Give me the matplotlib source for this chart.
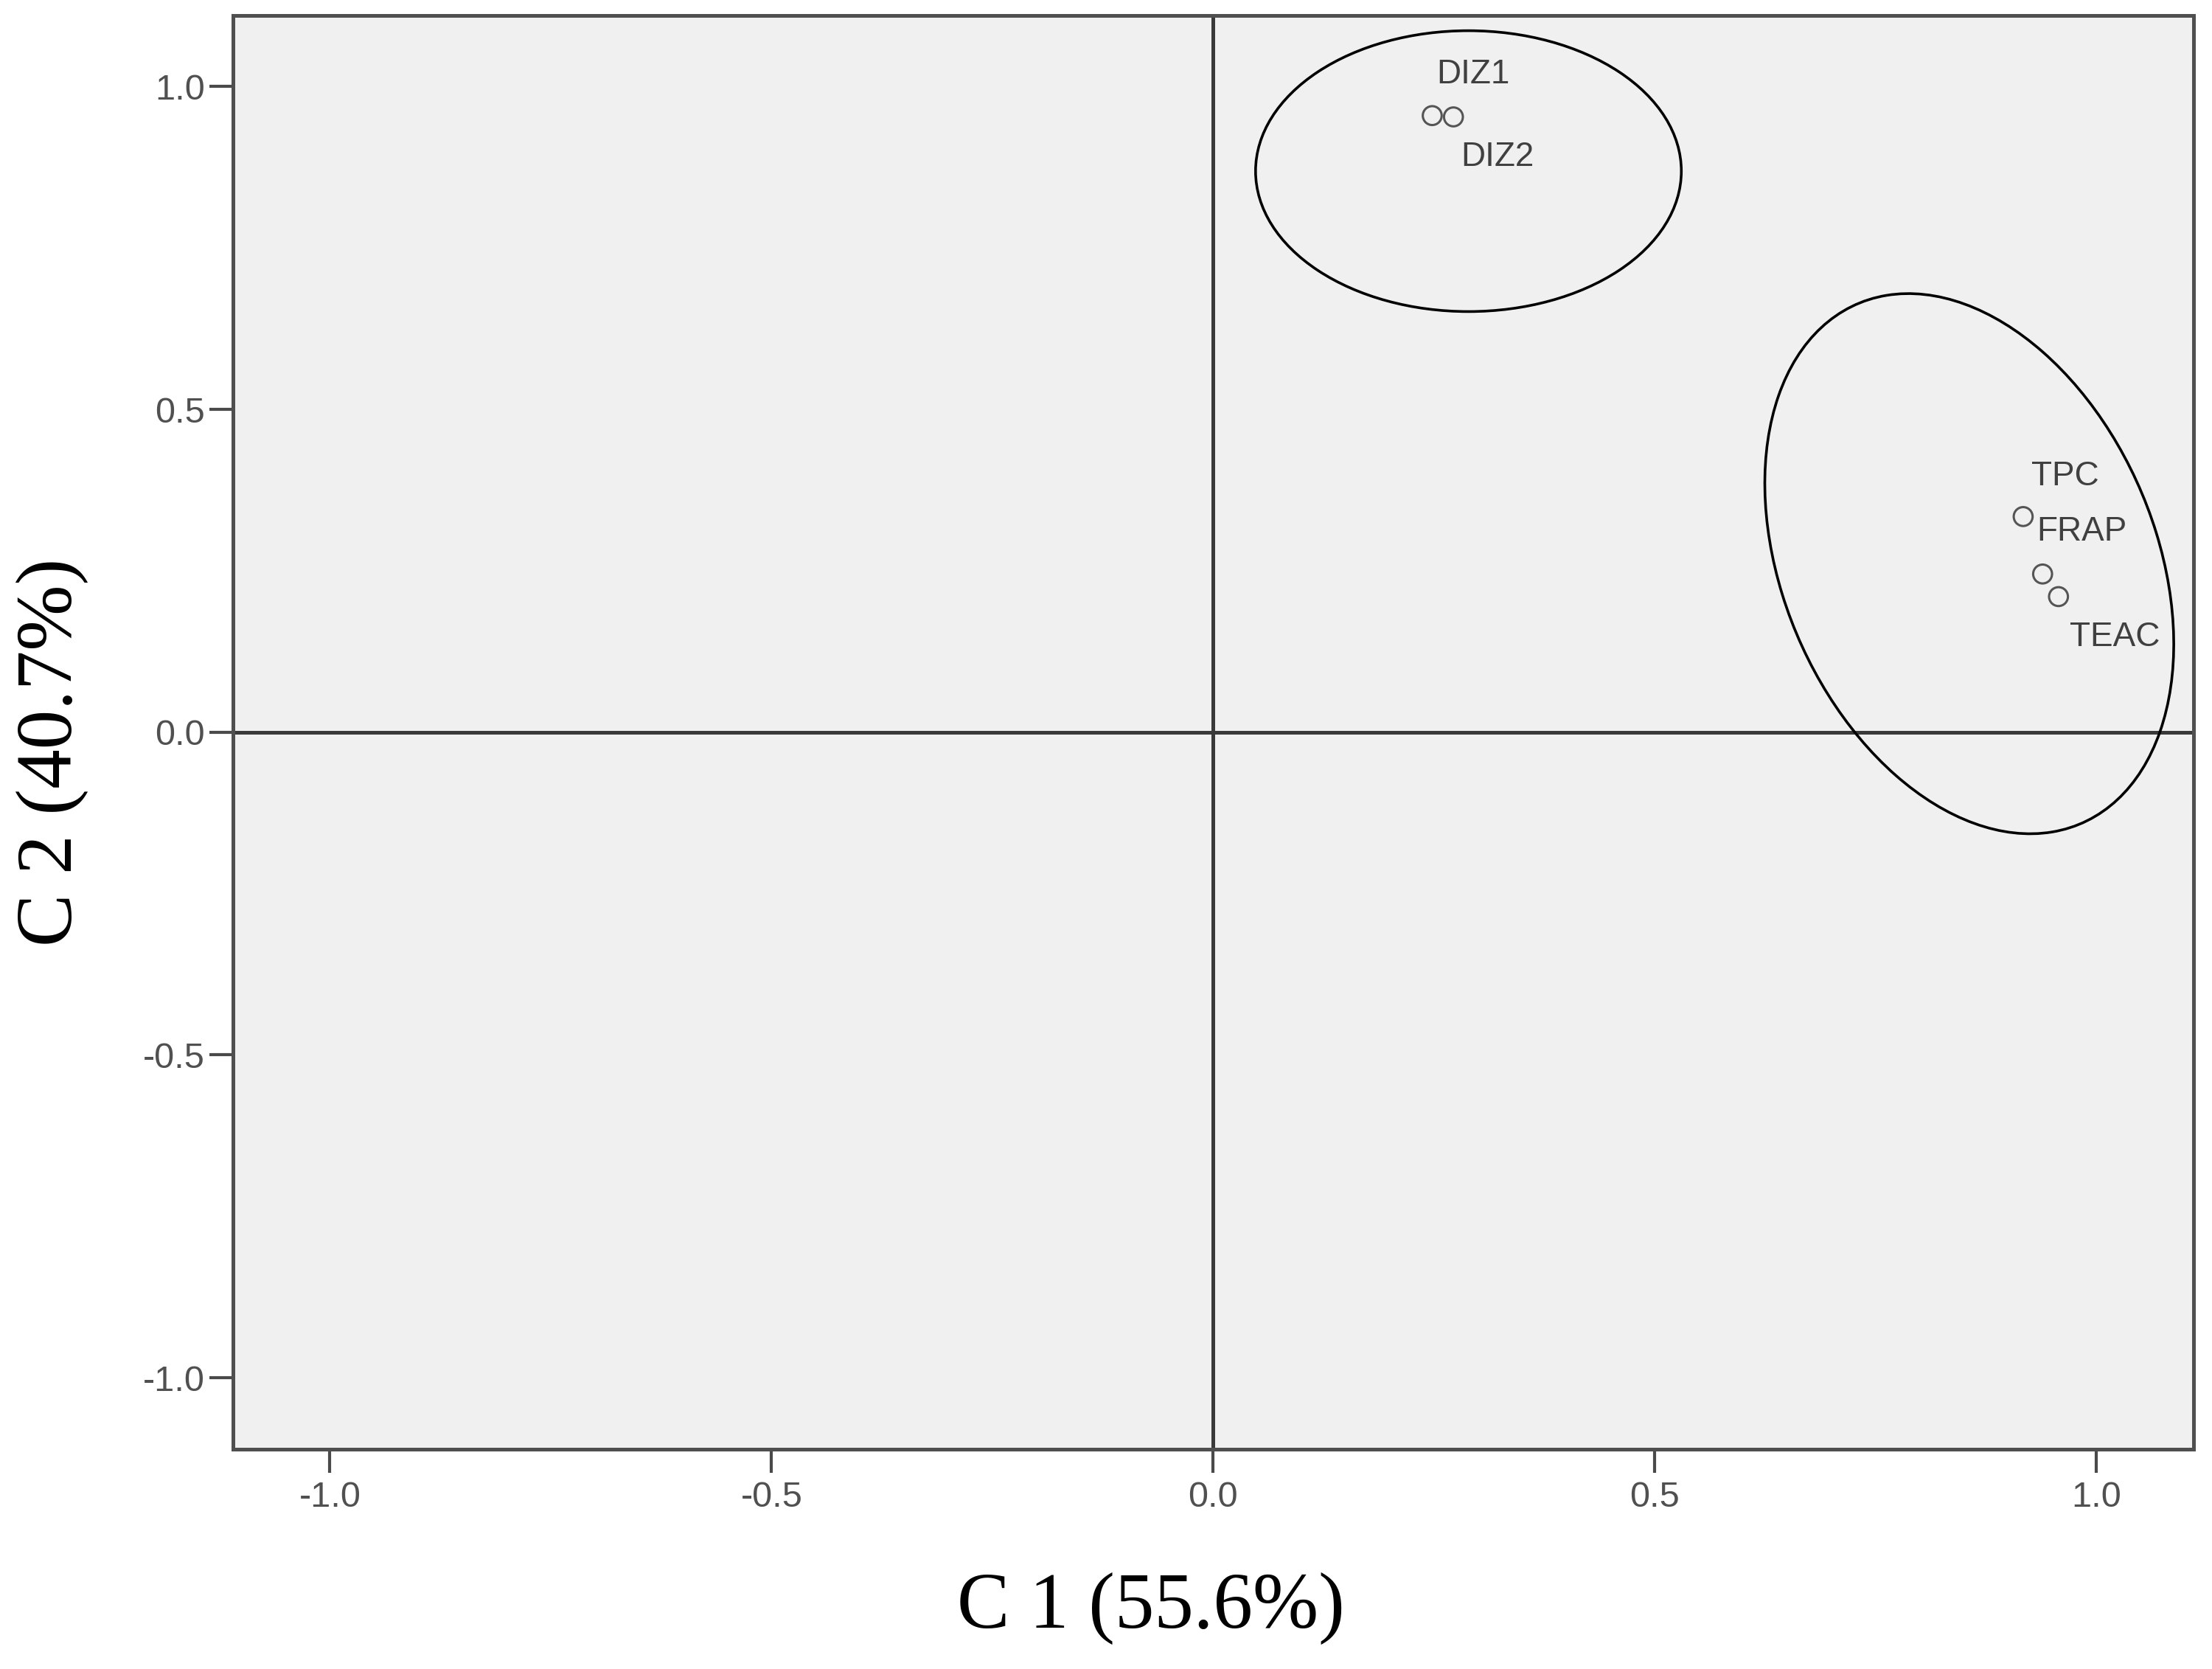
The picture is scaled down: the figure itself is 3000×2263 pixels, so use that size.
import numpy as np
import matplotlib.pyplot as plt
from matplotlib.patches import Ellipse

# component loadings
variables = ['DIZ1', 'DIZ2', 'TPC', 'FRAP', 'TEAC']
c1 = [0.248, 0.272, 0.917, 0.939, 0.957]
c2 = [0.955, 0.953, 0.334, 0.245, 0.210]

# label offsets (points) relative to each marker
label_dx = [2, 3.5, 4, -3, 5.5]
label_dy = [20, -19.5, 19.5, 20.5, -20]

# group ellipses: centre x, centre y, width, height, angle
ell_cx = [0.289, 0.856]
ell_cy = [0.869, 0.261]
ell_w = [0.482, 0.434]
ell_h = [0.435, 0.852]
ell_ang = [0, 12.7]

ticks = [-1.0, -0.5, 0.0, 0.5, 1.0]


def main():
    fig = plt.figure(figsize=(15, 11.315), dpi=200)
    ax = fig.add_axes([0.1052, 0.1319, 0.8865, 0.8588])
    ax.set_facecolor('#f0f0f0')

    ax.axhline(0, color='#3a3a3a', lw=1.8, zorder=1)
    ax.axvline(0, color='#3a3a3a', lw=1.8, zorder=1)

    for cx, cy, w, h, a in zip(ell_cx, ell_cy, ell_w, ell_h, ell_ang):
        ax.add_patch(Ellipse((cx, cy), w, h, angle=a, fill=False,
                             edgecolor='black', lw=1.3, zorder=2))

    ax.scatter(c1, c2, s=85, facecolors='none', edgecolors='#555555',
               linewidths=1.1, zorder=3)
    for name, x, y, dx, dy in zip(variables, c1, c2, label_dx, label_dy):
        ax.annotate(name, (x, y), xytext=(dx, dy), textcoords='offset points',
                    ha='left', va='center', fontsize=16.5, color='#404040',
                    family='Liberation Sans')

    ax.set_xlim(-1.11, 1.11)
    ax.set_ylim(-1.11, 1.11)
    ax.set_xticks(ticks)
    ax.set_yticks(ticks)
    ax.set_xticklabels(['%.1f' % t for t in ticks])
    ax.set_yticklabels(['%.1f' % t for t in ticks])
    ax.tick_params(axis='both', direction='out', length=11.5, width=1.5,
                   color='#4a4a4a', labelsize=17.5, labelcolor='#505050')
    ax.tick_params(axis='x', pad=4)
    ax.tick_params(axis='y', pad=2)
    for lab in ax.get_xticklabels() + ax.get_yticklabels():
        lab.set_family('Liberation Sans')

    for s in ax.spines.values():
        s.set_color('#4f4f4f')
        s.set_linewidth(1.8)

    fig.text(0.5204, 0.0363, 'C 1 (55.6%)', fontsize=38.5,
             family='Liberation Serif', ha='center', va='center')
    fig.text(0.0236, 0.5494, 'C 2 (40.7%)', fontsize=38.5,
             family='Liberation Serif', ha='center', va='center',
             rotation=90)

    fig.savefig('out.png', dpi=200)


if __name__ == "__main__":
    main()
